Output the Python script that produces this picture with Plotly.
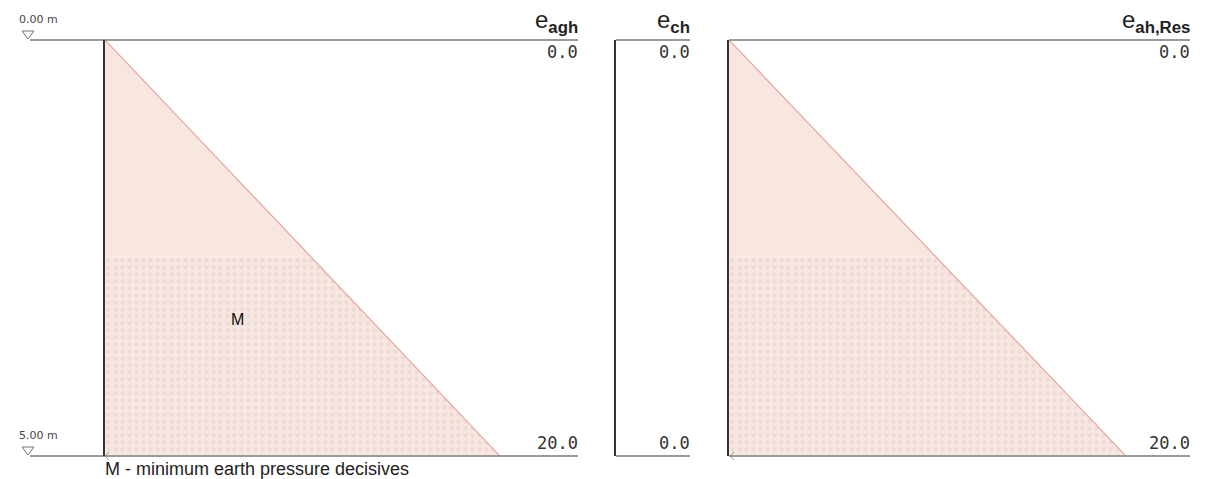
import plotly.graph_objects as go

W, H = 1210, 479

# ---- data ----
depth = [0.0, 2.6, 5.0]          # m, layer boundary at ~2.6 m
e_agh = [0.0, 10.4, 20.0]        # kN/m2
e_ch = [0.0, 0.0, 0.0]
e_ah_res = [0.0, 10.4, 20.0]
level_labels = ["0.00 m", "5.00 m"]
panel_titles = ["e<sub><b>agh</b></sub>", "e<sub><b>ch</b></sub>", "e<sub><b>ah,Res</b></sub>"]
top_vals = ["0.0", "0.0", "0.0"]
bot_vals = ["20.0", "0.0", "20.0"]

def px(x):
    return x / W

def py(y):
    return 1 - y / H

FILL = "#f8e6e1"
EDGE = "#e6a596"
DOT = "#dccfcc"

fig = go.Figure()

# panel x-axis pixel positions (value 0 -> left, 20 -> right)
panels = [
    dict(x0=105, x20=500, xend=578, xstart=30, vals=e_agh, ax="x"),
    dict(x0=616, x20=1011, xend=690, xstart=616, vals=e_ch, ax="x2"),
    dict(x0=729, x20=1126, xend=1190, xstart=729, vals=e_ah_res, ax="x3"),
]

for i, p in enumerate(panels):
    xa = p["ax"]
    ya = "y"
    vals = p["vals"]
    if max(vals) > 0:
        # upper layer: solid fill
        xs = [0.0, vals[0], vals[1], 0.0]
        ys = [depth[0], depth[0], depth[1], depth[1]]
        fig.add_trace(go.Scatter(x=xs, y=ys, xaxis=xa, yaxis=ya, mode="lines",
                                 line=dict(width=0), fill="toself", fillcolor=FILL,
                                 hoverinfo="skip", showlegend=False))
        # lower layer: dotted pattern
        xs = [0.0, vals[1], vals[2], 0.0]
        ys = [depth[1], depth[1], depth[2], depth[2]]
        fig.add_trace(go.Scatter(x=xs, y=ys, xaxis=xa, yaxis=ya, mode="lines",
                                 line=dict(width=0), fill="toself", fillcolor=FILL,
                                 fillpattern=dict(shape=".", fgcolor=DOT, bgcolor=FILL,
                                                  size=7, solidity=0.3),
                                 hoverinfo="skip", showlegend=False))
        # edge line
        fig.add_trace(go.Scatter(x=vals, y=depth, xaxis=xa, yaxis=ya, mode="lines",
                                 line=dict(color=EDGE, width=1.2),
                                 hoverinfo="skip", showlegend=False))

layout = dict(
    width=W, height=H,
    margin=dict(l=0, r=0, t=0, b=0),
    paper_bgcolor="white", plot_bgcolor="rgba(0,0,0,0)",
    showlegend=False,
    yaxis=dict(domain=[py(456), py(40)], range=[5, 0], visible=False, fixedrange=True),
)
for i, p in enumerate(panels):
    key = "xaxis" if i == 0 else f"xaxis{i+1}"
    layout[key] = dict(domain=[px(p["x0"]), px(p["x20"])], range=[0, 20],
                       visible=False, anchor="y")
fig.update_layout(**layout)

shapes = []
ann = []
for i, p in enumerate(panels):
    # top and bottom reference lines
    for yy in (40, 456):
        shapes.append(dict(type="line", xref="paper", yref="paper",
                           x0=px(p["xstart"]), x1=px(p["xend"]), y0=py(yy), y1=py(yy),
                           line=dict(color="#9a9a9a", width=2)))
    # wall line
    shapes.append(dict(type="line", xref="paper", yref="paper",
                       x0=px(p["x0"] - 1), x1=px(p["x0"] - 1), y0=py(40), y1=py(456),
                       line=dict(color="#333333", width=2)))
    # title
    ann.append(dict(xref="paper", yref="paper", x=px(p["xend"] + 2), y=py(39),
                    xanchor="right", yanchor="bottom", showarrow=False,
                    text=panel_titles[i],
                    font=dict(family="Liberation Sans, Arial", size=24, color="#222")))
    ann.append(dict(xref="paper", yref="paper", x=px(p["xend"] + 2), y=py(40),
                    xanchor="right", yanchor="top", showarrow=False, text=top_vals[i],
                    font=dict(family="DejaVu Sans Mono, monospace", size=17, color="#333")))
    ann.append(dict(xref="paper", yref="paper", x=px(p["xend"] + 2), y=py(455),
                    xanchor="right", yanchor="bottom", showarrow=False, text=bot_vals[i],
                    font=dict(family="DejaVu Sans Mono, monospace", size=17, color="#333")))

# level markers
for lab, yy in zip(level_labels, (40, 456)):
    ann.append(dict(xref="paper", yref="paper", x=px(17), y=py(yy - 12),
                    xanchor="left", yanchor="bottom", showarrow=False, text=lab,
                    font=dict(family="DejaVu Sans, sans-serif", size=11, color="#444")))
    shapes.append(dict(type="path", xref="paper", yref="paper",
                       path=f"M {px(22)},{py(yy-9)} L {px(34)},{py(yy-9)} L {px(28)},{py(yy-1)} Z",
                       line=dict(color="#777", width=1), fillcolor="white"))

# small arrow marks at base
for xb in (105, 730):
    shapes.append(dict(type="path", xref="paper", yref="paper",
                       path=f"M {px(xb + 4)},{py(452)} L {px(xb)},{py(456)} L {px(xb + 4)},{py(460)}",
                       line=dict(color="#999", width=1)))

# M label and legend
ann.append(dict(xref="paper", yref="paper", x=px(237), y=py(319), showarrow=False,
                xanchor="center", yanchor="middle",
                text="M", font=dict(family="Liberation Sans, Arial", size=16, color="#111")))
ann.append(dict(xref="paper", yref="paper", x=px(103), y=py(457), xanchor="left",
                yanchor="top", showarrow=False,
                text="M - minimum earth pressure decisives",
                font=dict(family="Liberation Sans, Arial", size=18, color="#222")))

fig.update_layout(shapes=shapes, annotations=ann)
fig.write_html("out.html", config={"displayModeBar": False},
               post_script="document.body.style.margin='0';document.body.style.overflow='hidden';")
